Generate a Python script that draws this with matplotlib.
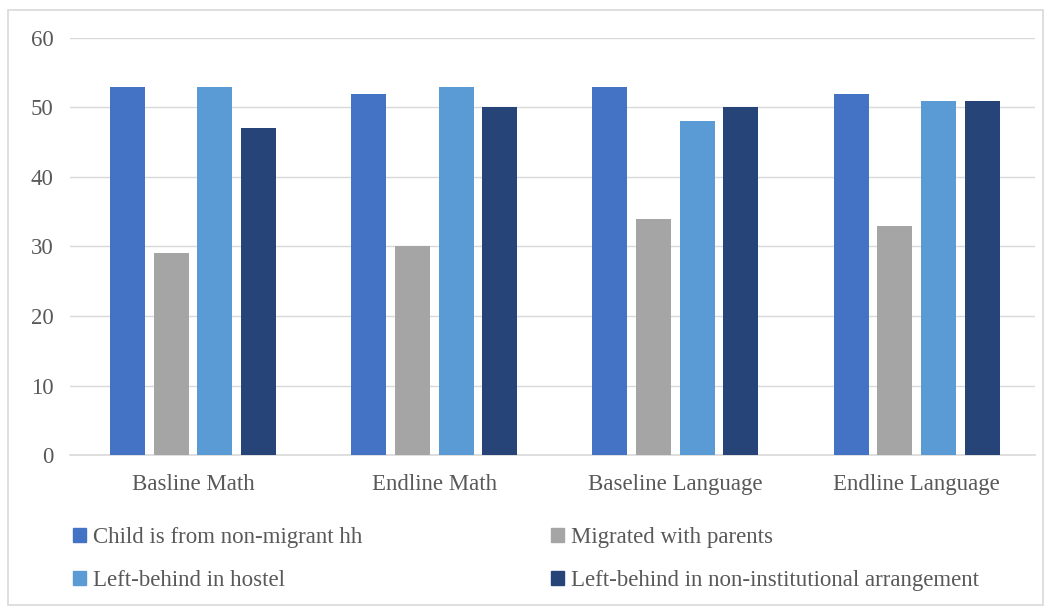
import matplotlib.pyplot as plt
from matplotlib.patches import Rectangle, Patch
import numpy as np

# data
groups = ['Basline Math', 'Endline Math', 'Baseline Language', 'Endline Language']
series = ['Child is from non-migrant hh', 'Migrated with parents',
          'Left-behind in hostel', 'Left-behind in non-institutional arrangement']
non_migrant = [53, 52, 53, 52]
migrated = [29, 30, 34, 33]
hostel = [53, 53, 48, 51]
non_inst = [47, 50, 50, 51]
colors = ['#4472C4', '#A5A5A5', '#5B9BD5', '#264478']

plt.rcParams['font.family'] = ['Liberation Serif', 'DejaVu Serif']
txt = '#595959'
fs = 16.5

fig = plt.figure(figsize=(10.51, 6.08), dpi=100)
ax = fig.add_axes([0.0666, 0.2516, 0.918, 0.686])

x = np.arange(len(groups))
slot = 0.181
bw = 0.145
vals = [non_migrant, migrated, hostel, non_inst]
for i, (v, c) in enumerate(zip(vals, colors)):
    ax.bar(x + (i - 1.5) * slot, v, bw, color=c, zorder=3)

ax.set_xlim(-0.51, 3.49)
ax.set_ylim(0, 60)
ax.set_yticks(range(0, 61, 10))
ax.yaxis.grid(True, color='#D9D9D9', linewidth=1, zorder=0)
for s in ['top', 'right', 'left']:
    ax.spines[s].set_visible(False)
ax.spines['bottom'].set_color('#D9D9D9')
ax.spines['bottom'].set_linewidth(1.2)
ax.tick_params(axis='both', length=0, labelsize=fs, colors=txt)
ax.tick_params(axis='x', pad=14)
ax.tick_params(axis='y', pad=12)
ax.set_xticks(x)
ax.set_xticklabels(groups)

handles = [Patch(color=c) for c in colors]
leg_kw = dict(frameon=False, fontsize=fs, labelcolor=txt, handlelength=0.55,
              handleheight=0.55, handletextpad=0.3, labelspacing=0.95,
              loc='upper left', borderaxespad=0)
fig.legend([handles[0], handles[2]], [series[0], series[2]],
           bbox_to_anchor=(0.061, 0.148), **leg_kw)
fig.legend([handles[1], handles[3]], [series[1], series[3]],
           bbox_to_anchor=(0.516, 0.148), **leg_kw)

fig.patches.append(Rectangle((0.008, 0.005), 0.984, 0.978, transform=fig.transFigure,
                             fill=False, edgecolor='#D9D9D9', linewidth=1.2))

fig.savefig('out.png', dpi=100)
